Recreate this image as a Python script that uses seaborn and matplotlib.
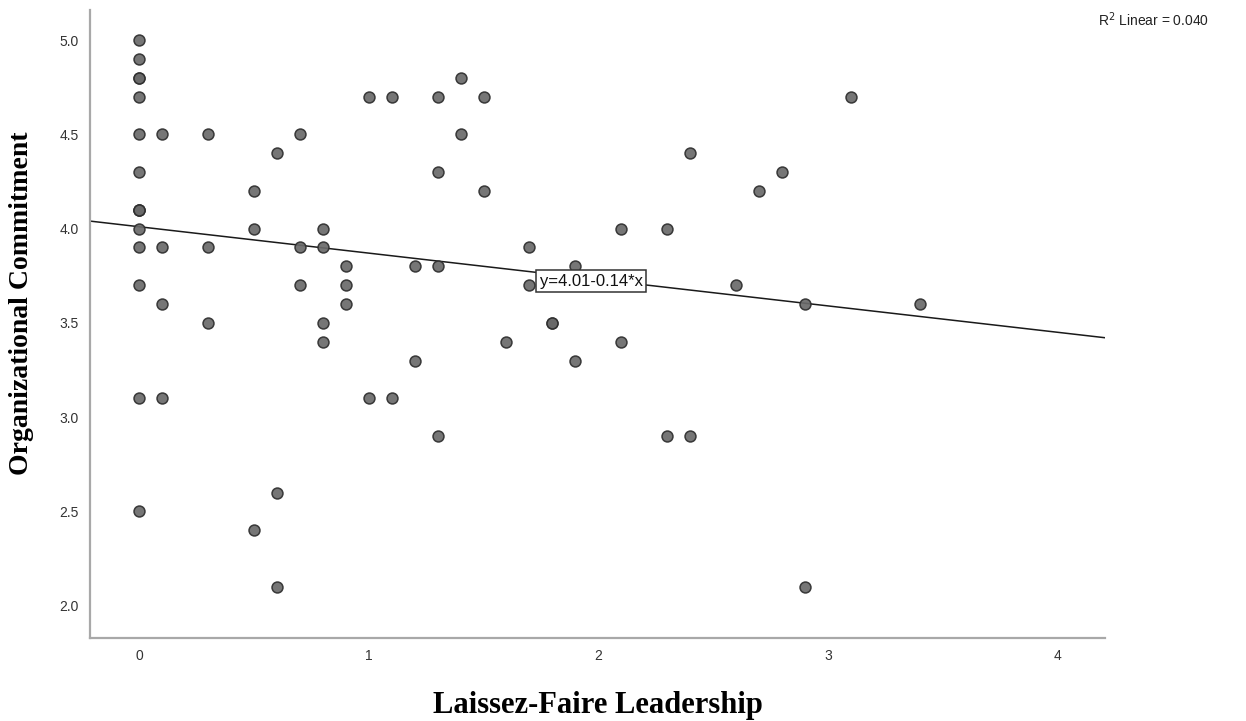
import matplotlib
matplotlib.use("Agg")
import matplotlib.pyplot as plt
import seaborn as sns
import pandas as pd
import numpy as np

# Data
laissez_faire = [0, 0, 0, 0, 0, 0, 0, 0, 0, 0, 0, 0, 0, 0, 0,
                 0.1, 0.1, 0.1, 0.1,
                 0.3, 0.3, 0.3,
                 0.5, 0.5, 0.5,
                 0.6, 0.6, 0.6,
                 0.7, 0.7, 0.7,
                 0.8, 0.8, 0.8, 0.8,
                 0.9, 0.9, 0.9,
                 1.0, 1.0,
                 1.1, 1.1,
                 1.2, 1.2,
                 1.3, 1.3, 1.3, 1.3,
                 1.4, 1.4,
                 1.5, 1.5,
                 1.6,
                 1.7, 1.7,
                 1.8, 1.8,
                 1.9, 1.9,
                 2.1, 2.1,
                 2.3, 2.3,
                 2.4, 2.4,
                 2.6, 2.7, 2.8,
                 2.9, 2.9,
                 3.1, 3.4]
commitment = [5.0, 4.9, 4.8, 4.8, 4.7, 4.5, 4.3, 4.1, 4.1, 4.1, 4.0, 3.9, 3.7, 3.1, 2.5,
              4.5, 3.9, 3.6, 3.1,
              4.5, 3.9, 3.5,
              4.2, 4.0, 2.4,
              4.4, 2.6, 2.1,
              4.5, 3.9, 3.7,
              4.0, 3.9, 3.5, 3.4,
              3.8, 3.7, 3.6,
              4.7, 3.1,
              4.7, 3.1,
              3.8, 3.3,
              4.7, 4.3, 3.8, 2.9,
              4.8, 4.5,
              4.7, 4.2,
              3.4,
              3.9, 3.7,
              3.5, 3.5,
              3.8, 3.3,
              4.0, 3.4,
              4.0, 2.9,
              4.4, 2.9,
              3.7, 4.2, 4.3,
              3.6, 2.1,
              4.7, 3.6]

fit_intercept = 4.01
fit_slope = -0.14
r_squared = 0.040

x_ticks = [0, 1, 2, 3, 4]
y_ticks = [2.0, 2.5, 3.0, 3.5, 4.0, 4.5, 5.0]

df = pd.DataFrame({"Laissez-Faire Leadership": laissez_faire,
                   "Organizational Commitment": commitment})

sns.set_theme(style="white")
plt.rcParams['font.family'] = ['Liberation Sans', 'DejaVu Sans']

fig = plt.figure(figsize=(12.46, 7.21), dpi=100)
ax = fig.add_axes([0.0722, 0.1151, 0.8146, 0.871])

sns.scatterplot(data=df, x="Laissez-Faire Leadership", y="Organizational Commitment",
                ax=ax, s=62, color="#6a6a6a", edgecolor="#2e2e2e", linewidth=1.1,
                alpha=0.92, zorder=3)

xlim = (-0.213, 4.205)
xs = np.array(xlim)
line_df = pd.DataFrame({"x": xs, "y": fit_intercept + fit_slope * xs})
sns.lineplot(data=line_df, x="x", y="y", ax=ax, color="#1a1a1a", linewidth=1.1, zorder=2)

ax.set_xlim(*xlim)
ax.set_ylim(1.829, 5.159)
ax.set_xticks(x_ticks)
ax.set_xticklabels([str(t) for t in x_ticks])
ax.set_yticks(y_ticks)
ax.set_yticklabels([f"{t:.1f}" for t in y_ticks])
ax.tick_params(axis="both", length=0, labelsize=10, colors="#333333", pad=8)

for side in ["top", "right"]:
    ax.spines[side].set_visible(False)
for side in ["left", "bottom"]:
    ax.spines[side].set_color("#a8a8a8")
    ax.spines[side].set_linewidth(1.6)

ax.set_xlabel("Laissez-Faire Leadership", family="Liberation Serif",
              fontweight="bold", fontsize=22, color="black", labelpad=20)
ax.set_ylabel("Organizational Commitment", family="Liberation Serif",
              fontweight="bold", fontsize=20, color="black")
ax.yaxis.set_label_coords(-0.055, 0.533)

eq_x = 1.745
ax.text(eq_x, fit_intercept + fit_slope * 1.95 - 0.015,
        f"y={fit_intercept:.2f}-{abs(fit_slope):.2f}*x",
        fontsize=12, color="#111111", va="center", ha="left", zorder=5,
        bbox=dict(boxstyle="square,pad=0.2", fc="white", ec="#333333", lw=1.1))

fig.text(0.9705, 0.972, f"R$^2$ Linear = {r_squared:.3f}", ha="right", va="center",
         fontsize=10, color="#222222")

fig.savefig("out.png", dpi=100, facecolor="white")
